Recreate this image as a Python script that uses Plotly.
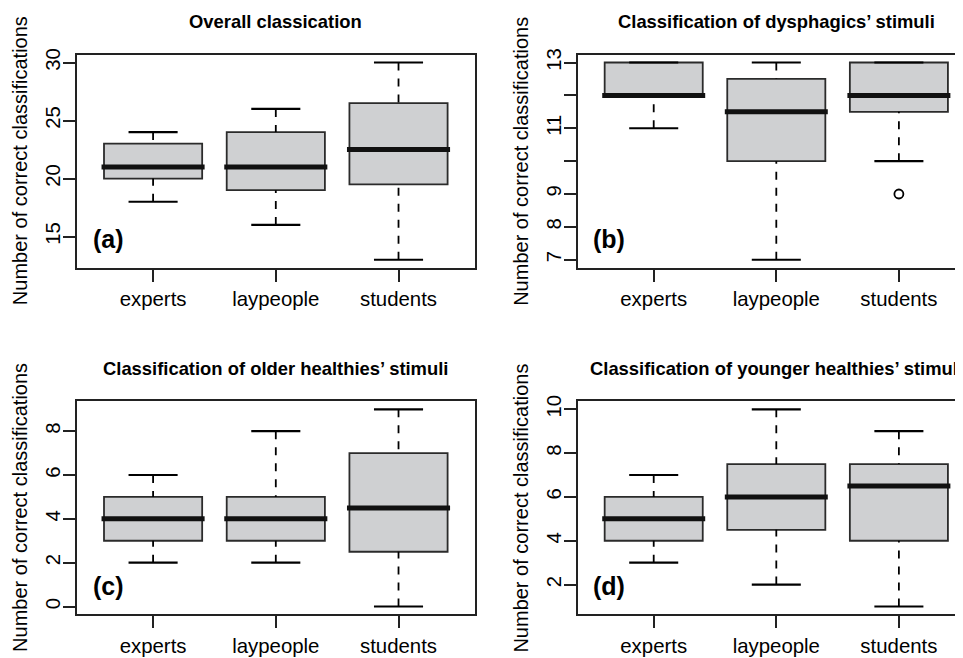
import plotly.graph_objects as go

# ---------------- data ----------------
categories = ["experts", "laypeople", "students"]

titles = ["Overall classication",
          "Classification of dysphagics\u2019 stimuli",
          "Classification of older healthies\u2019 stimuli",
          "Classification of younger healthies\u2019 stimuli"]
panel_labels = ["(a)", "(b)", "(c)", "(d)"]
ylabel = "Number of correct classifications"

a_low = [18, 16, 13]
a_q1 = [20, 19, 19.5]
a_med = [21, 21, 22.5]
a_q3 = [23, 24, 26.5]
a_high = [24, 26, 30]
a_out_x = []
a_out_y = []
a_ticks = [15, 20, 25, 30]
a_ticktext = ["15", "20", "25", "30"]

b_low = [11, 7, 10]
b_q1 = [12, 10, 11.5]
b_med = [12, 11.5, 12]
b_q3 = [13, 12.5, 13]
b_high = [13, 13, 13]
b_out_x = [3]
b_out_y = [9]
b_ticks = [7, 8, 9, 10, 11, 12, 13]
b_ticktext = ["7", "8", "9", "", "11", "", "13"]

c_low = [2, 2, 0]
c_q1 = [3, 3, 2.5]
c_med = [4, 4, 4.5]
c_q3 = [5, 5, 7]
c_high = [6, 8, 9]
c_out_x = []
c_out_y = []
c_ticks = [0, 2, 4, 6, 8]
c_ticktext = ["0", "2", "4", "6", "8"]

d_low = [3, 2, 1]
d_q1 = [4, 4.5, 4]
d_med = [5, 6, 6.5]
d_q3 = [6, 7.5, 7.5]
d_high = [7, 10, 9]
d_out_x = []
d_out_y = []
d_ticks = [2, 4, 6, 8, 10]
d_ticktext = ["2", "4", "6", "8", "10"]

panels = [
    (a_low, a_q1, a_med, a_q3, a_high, a_out_x, a_out_y, a_ticks, a_ticktext),
    (b_low, b_q1, b_med, b_q3, b_high, b_out_x, b_out_y, b_ticks, b_ticktext),
    (c_low, c_q1, c_med, c_q3, c_high, c_out_x, c_out_y, c_ticks, c_ticktext),
    (d_low, d_q1, d_med, d_q3, d_high, d_out_x, d_out_y, d_ticks, d_ticktext),
]

# ---------------- layout (pixels, page coordinates) ----------------
PAGE_W, PAGE_H = 963, 658
OFF = 8                      # default body margin of the html page
W, H = PAGE_W - OFF, PAGE_H - OFF
FONT = "Liberation Sans, Arial, Helvetica, sans-serif"
cols_px = [(77.0 - OFF, 474.6 - OFF), (577.7 - OFF, 974.9 - OFF)]
rows_px = [(49 - OFF, 264 - OFF), (399 - OFF, 614 - OFF)]
BOXW = 0.8
CAPW = 0.4
FILL = "#cfd0d2"
LINE = "#2b2b2b"

fig = go.Figure()
layout = dict(width=W, height=H, margin=dict(l=0, r=0, t=0, b=0),
              paper_bgcolor="white", plot_bgcolor="white", showlegend=False,
              font=dict(family=FONT, size=20, color="black"))
annotations = []

for i, (low, q1, med, q3, high, ox, oy, ticks, ticktext) in enumerate(panels):
    r, c = divmod(i, 2)
    n = i + 1
    xa = "x" if n == 1 else f"x{n}"
    ya = "y" if n == 1 else f"y{n}"
    xpos = list(range(1, len(categories) + 1))

    # box bodies
    fig.add_trace(go.Box(x=xpos, q1=q1, median=med, q3=q3, lowerfence=q1, upperfence=q3,
                         width=BOXW, fillcolor=FILL, line=dict(color=LINE, width=1.8),
                         whiskerwidth=0, boxpoints=False, hoverinfo="skip",
                         xaxis=xa, yaxis=ya))
    for k, xv in enumerate(xpos):
        # whiskers (dashed), drawn from the whisker end toward the box
        for ends in ((low[k], q1[k]), (high[k], q3[k])):
            if ends[0] != ends[1]:
                fig.add_trace(go.Scatter(x=[xv, xv], y=list(ends), mode="lines",
                                         line=dict(color="black", width=1.8, dash="8px,8px"),
                                         hoverinfo="skip", xaxis=xa, yaxis=ya))
        # caps
        for yv in (low[k], high[k]):
            fig.add_trace(go.Scatter(x=[xv - CAPW / 2, xv + CAPW / 2], y=[yv, yv], mode="lines",
                                     line=dict(color="black", width=2.2),
                                     hoverinfo="skip", xaxis=xa, yaxis=ya))
        # median
        fig.add_trace(go.Scatter(x=[xv - BOXW / 2 - 0.02, xv + BOXW / 2 + 0.02], y=[med[k], med[k]],
                                 mode="lines", line=dict(color="#111111", width=5),
                                 hoverinfo="skip", xaxis=xa, yaxis=ya))
    if ox:
        fig.add_trace(go.Scatter(x=ox, y=oy, mode="markers",
                                 marker=dict(symbol="circle-open", size=9, color="black",
                                             line=dict(width=1.8)),
                                 hoverinfo="skip", xaxis=xa, yaxis=ya))

    # axis ranges: R default (4% extension)
    allv = low + high + oy
    ymin, ymax = min(allv), max(allv)
    pad = 0.04 * (ymax - ymin)
    x0u, x1u = 0.5 - 0.12, len(categories) + 0.5 + 0.12
    px0, px1 = cols_px[c]
    upp = (x1u - x0u) / (px1 - px0)
    vis_px1 = min(px1, W)
    xr = [x0u, x0u + (vis_px1 - px0) * upp]
    py0, py1 = rows_px[r]

    axcommon = dict(showgrid=False, zeroline=False, showline=True, linecolor="#222222",
                    linewidth=1.8, ticks="outside", ticklen=12, tickwidth=1.5,
                    tickcolor="#222222", tickfont=dict(family=FONT, size=20.4, color="black"))
    layout["xaxis" if n == 1 else f"xaxis{n}"] = dict(
        axcommon, domain=[px0 / W, vis_px1 / W], range=xr, tickvals=xpos, ticktext=categories,
        mirror=True, anchor=ya)
    layout["yaxis" if n == 1 else f"yaxis{n}"] = dict(
        axcommon, domain=[1 - py1 / H, 1 - py0 / H], range=[ymin - pad, ymax + pad],
        tickvals=ticks, ticktext=ticktext, tickangle=-90, mirror=(c == 0), anchor=xa,
        ticklabelstandoff=-5)

    # title
    annotations.append(dict(text="<b>" + titles[i] + "</b>", xref="paper", yref="paper",
                            x=((px0 + px1) / 2) / W, y=1 - (py0 - 33) / H,
                            xanchor="center", yanchor="middle", showarrow=False,
                            font=dict(family=FONT, size=18.4, color="black")))
    # y label
    annotations.append(dict(text=ylabel, xref="paper", yref="paper",
                            x=(px0 - 57) / W, y=1 - ((py0 + py1) / 2) / H, textangle=-90,
                            xanchor="center", yanchor="middle", showarrow=False,
                            font=dict(family=FONT, size=20, color="black")))
    # panel label
    annotations.append(dict(text="<b>" + panel_labels[i] + "</b>", xref="paper", yref="paper",
                            x=(px0 + 31) / W, y=1 - (py1 - 29) / H,
                            xanchor="center", yanchor="middle", showarrow=False,
                            font=dict(family=FONT, size=25, color="black")))

layout["annotations"] = annotations
fig.update_layout(**layout)
fig.write_html("out.html")
